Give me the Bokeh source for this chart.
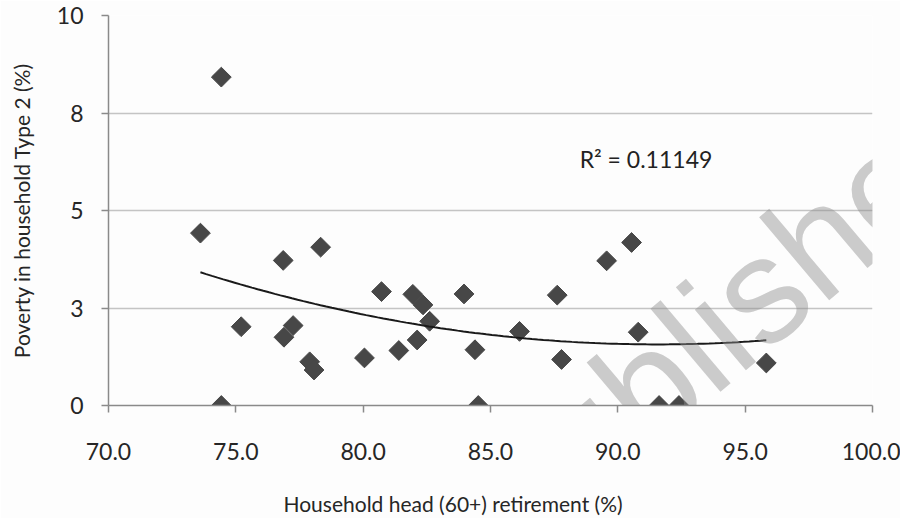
import numpy as np
from bokeh.plotting import figure
from bokeh.models import FixedTicker, NumeralTickFormatter, Label, ColumnDataSource, Title
from bokeh.embed import file_html
from bokeh.resources import INLINE

# Data
retirement = [73.61, 74.43, 74.43, 75.21, 76.86, 76.89, 77.25, 77.90, 78.07, 78.33,
              80.05, 80.72, 81.40, 81.95, 82.35, 82.12, 82.61, 83.96, 84.39, 84.52,
              86.14, 87.62, 87.79, 89.56, 90.54, 90.80, 91.62, 92.40, 95.83]
poverty = [4.42, 8.42, 0.00, 2.02, 3.72, 1.75, 2.05, 1.12, 0.91, 4.06,
           1.22, 2.92, 1.41, 2.85, 2.58, 1.68, 2.16, 2.86, 1.43, 0.00,
           1.90, 2.83, 1.18, 3.71, 4.18, 1.88, 0.00, 0.00, 1.09]
x_ticks = [70, 75, 80, 85, 90, 95, 100]
y_ticks = [0, 2.5, 5, 7.5, 10]
y_tick_labels = ["0", "3", "5", "8", "10"]
x_title = "Household head (60+) retirement  (%)"
y_title = "Poverty in household Type 2 (%)"
r2_text = "R\u00b2 = 0.11149"

FONT = "Lato"
TXT = "#262626"

p = figure(width=900, height=518, x_range=(70, 100), y_range=(0, 10),
           output_backend="svg", toolbar_location=None,
           min_border_left=108, min_border_right=28, min_border_top=15, min_border_bottom=113)
p.outline_line_color = None
p.background_fill_color = "#fdfdfd"
p.border_fill_color = "#fdfdfd"

# axes
p.xaxis.ticker = FixedTicker(ticks=x_ticks)
p.xaxis.formatter = NumeralTickFormatter(format="0.0")
p.yaxis.ticker = FixedTicker(ticks=y_ticks)
p.yaxis.major_label_overrides = {float(t): l for t, l in zip(y_ticks, y_tick_labels)}
for ax in (p.xaxis, p.yaxis):
    ax.axis_line_color = "#8a8a8a"
    ax.axis_line_width = 1.5
    ax.major_tick_line_color = "#8a8a8a"
    ax.major_tick_line_width = 1.5
    ax.major_tick_in = 0
    ax.major_tick_out = 7
    ax.minor_tick_line_color = None
    ax.major_label_text_font = FONT
    ax.major_label_text_font_size = "23px"
    ax.major_label_text_color = TXT
    ax.axis_label_text_font = FONT
    ax.axis_label_text_font_size = "21px"
    ax.axis_label_text_font_style = "normal"
    ax.axis_label_text_color = TXT
p.xaxis.major_label_standoff = 30
p.yaxis.major_label_standoff = 18
p.yaxis.axis_label = y_title
p.yaxis.axis_label_standoff = 20
# blank spacer label between the tick labels and the x-axis title
p.xaxis.axis_label = " "
p.xaxis.axis_label_text_font_size = "1px"
p.xaxis.axis_label_standoff = 20

# x-axis title, placed left of centre as in the reference
p.add_layout(Title(text=x_title, align="left", offset=175, standoff=4,
                   text_font=FONT, text_font_size="21px", text_font_style="normal",
                   text_color=TXT), "below")

p.xgrid.grid_line_color = None
p.ygrid.grid_line_color = "#c4c4c4"
p.ygrid.grid_line_width = 1.5

src = ColumnDataSource(dict(x=retirement, y=poverty))
p.scatter("x", "y", source=src, marker="square", angle=np.pi / 4, size=14,
          fill_color="#474747", line_color="#474747")

# second-order polynomial trend line fitted to the data
coef = np.polyfit(retirement, poverty, 2)
xs = np.linspace(min(retirement), max(retirement), 100)
p.line(xs, np.polyval(coef, xs), line_color="#1a1a1a", line_width=2)

p.add_layout(Label(x=88.5, y=6.32, text=r2_text, text_font=FONT, text_font_size="23px",
                   text_color="#222222", text_baseline="middle", text_align="left"))

# publisher watermark
p.add_layout(Label(x=84.4, y=-3.2, text="Publisher", angle=0.70, text_font="Liberation Sans",
                   text_font_size="150px", text_color="#8f8f8f", text_alpha=0.45,
                   text_baseline="alphabetic", text_align="left", level="overlay"))

open("out.html", "w").write(file_html(p, INLINE))
